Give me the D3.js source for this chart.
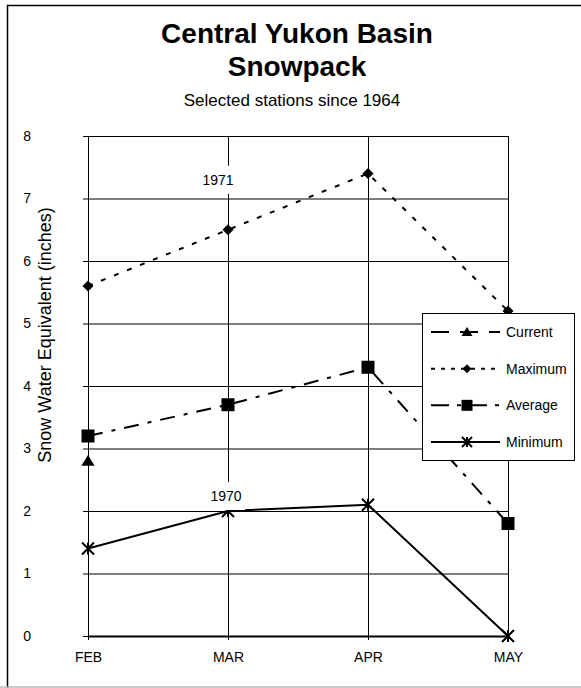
<!DOCTYPE html>
<html>
<head>
<meta charset="utf-8">
<script src="https://cdn.jsdelivr.net/npm/d3@7"></script>
<style>
  body { margin: 0; background: #fff; }
  svg text { font-family: "Liberation Sans", Arial, sans-serif; fill: #000; }
  .axis path, .axis line { stroke: #000; }
  .grid .domain { display: none; }
</style>
</head>
<body>
<div id="chart"></div>
<script>
// chart data
var months = ["FEB", "MAR", "APR", "MAY"];
var yTicks = [0, 1, 2, 3, 4, 5, 6, 7, 8];
var currentVals = [2.8, null, null, null];
var maximumVals = [5.6, 6.5, 7.4, 5.2];
var averageVals = [3.2, 3.7, 4.3, 1.8];
var minimumVals = [1.4, 2.0, 2.1, 0];
var seriesNames = ["Current", "Maximum", "Average", "Minimum"];
var yearNotes = [{month: "MAR", value: 7.3, text: "1971", dx: -10}, {month: "MAR", value: 2.24, text: "1970", dx: -2}];

var W = 581, H = 688;
var margin = {top: 136, right: 73, bottom: 52, left: 88};
var width = W - margin.left - margin.right,
    height = H - margin.top - margin.bottom;

var svg = d3.select("#chart").append("svg")
    .attr("width", W)
    .attr("height", H);

// outer frame
svg.append("path")
    .attr("d", "M7.5,688V5.5H581")
    .attr("fill", "none")
    .attr("stroke", "#000")
    .attr("stroke-width", 1.5);
svg.append("line")
    .attr("x1", 0).attr("x2", W)
    .attr("y1", 687).attr("y2", 687)
    .attr("stroke", "#bbb")
    .attr("stroke-width", 1.5);

// titles
svg.append("text")
    .attr("x", 297).attr("y", 43)
    .attr("text-anchor", "middle")
    .style("font-size", "28px").style("font-weight", "bold")
    .text("Central Yukon Basin");
svg.append("text")
    .attr("x", 297).attr("y", 76)
    .attr("text-anchor", "middle")
    .style("font-size", "28px").style("font-weight", "bold")
    .text("Snowpack");
svg.append("text")
    .attr("x", 292).attr("y", 106)
    .attr("text-anchor", "middle")
    .style("font-size", "17px")
    .text("Selected stations since 1964");

var g = svg.append("g").attr("transform", "translate(" + margin.left + "," + margin.top + ")");

var xScale = d3.scalePoint().domain(months).range([0, width]);
var yScale = d3.scaleLinear().domain([0, 8]).range([height, 0]);

// grid lines
g.append("g")
    .attr("class", "grid")
    .call(d3.axisLeft(yScale).tickValues(yTicks.slice(1)).tickSize(-width).tickFormat(""))
    .selectAll("line").attr("stroke", "#000");
g.append("g")
    .attr("class", "grid")
    .attr("transform", "translate(0," + height + ")")
    .call(d3.axisBottom(xScale).tickSize(height).tickFormat(""))
    .selectAll("line").attr("stroke", "#000").attr("transform", "translate(0," + (-height) + ")");

// axes
var yAxis = d3.axisLeft(yScale).tickValues(yTicks).tickSize(5).tickSizeOuter(0);
g.append("g")
    .attr("class", "axis axis--y")
    .call(yAxis)
    .selectAll("text")
    .style("font-size", "14px")
    .attr("x", -57).attr("text-anchor", "end");

var xAxis = d3.axisBottom(xScale).tickSize(4).tickSizeOuter(0).tickPadding(12);
var xg = g.append("g")
    .attr("class", "axis axis--x")
    .attr("transform", "translate(0," + height + ")")
    .call(xAxis);
xg.select(".domain").attr("stroke-width", 2);
xg.selectAll("text").style("font-size", "14px");

svg.append("text")
    .attr("transform", "translate(51,335) rotate(-90)")
    .attr("text-anchor", "middle")
    .style("font-size", "18px")
    .text("Snow Water Equivalent (inches)");

// series
var styles = {
    Current: {dash: "18,11", legendDash: "18,11", marker: "triangle"},
    Maximum: {dash: "5,9", legendDash: "4,6", marker: "diamond"},
    Average: {dash: "15,9,4,9", legendDash: "18,8,4,8", marker: "square"},
    Minimum: {dash: null, legendDash: null, marker: "star"}
};
var seriesVals = [currentVals, maximumVals, averageVals, minimumVals];

var line = d3.line()
    .defined(function(d) { return d.v != null; })
    .x(function(d) { return xScale(d.m); })
    .y(function(d) { return yScale(d.v); });

function markerPath(type, s) {
    var h = s / 2;
    if (type == "triangle") return "M0," + (-h) + "L" + (h * 1.1) + "," + (h * 0.8) + "L" + (-h * 1.1) + "," + (h * 0.8) + "Z";
    if (type == "diamond") return "M0," + (-h) + "L" + h + ",0L0," + h + "L" + (-h) + ",0Z";
    if (type == "square") return "M" + (-h) + "," + (-h) + "H" + h + "V" + h + "H" + (-h) + "Z";
    return "M" + (-h) + "," + (-h) + "L" + h + "," + h + "M" + h + "," + (-h) + "L" + (-h) + "," + h + "M0," + (-h) + "V" + h;
}
var markerSize = {triangle: 12, diamond: 11, square: 13, star: 12};

function drawMarker(sel, type, s) {
    sel.append("path")
        .attr("d", markerPath(type, s))
        .attr("fill", type == "star" ? "none" : "#000")
        .attr("stroke", "#000")
        .attr("stroke-width", type == "star" ? 2 : 0);
}

seriesNames.forEach(function(name, i) {
    var pts = months.map(function(m, j) { return {m: m, v: seriesVals[i][j]}; });
    var st = styles[name];
    g.append("path")
        .datum(pts)
        .attr("d", line)
        .attr("fill", "none")
        .attr("stroke", "#000")
        .attr("stroke-width", 2)
        .attr("stroke-dasharray", st.dash);
    pts.filter(function(d) { return d.v != null; }).forEach(function(d) {
        var mg = g.append("g").attr("transform", "translate(" + xScale(d.m) + "," + yScale(d.v) + ")");
        drawMarker(mg, st.marker, markerSize[st.marker]);
    });
});

// year notes with white background
yearNotes.forEach(function(n) {
    var cx = xScale(n.month) + n.dx, cy = yScale(n.value);
    g.append("rect")
        .attr("x", cx - 19).attr("y", cy - 14)
        .attr("width", 38).attr("height", 28)
        .attr("fill", "#fff");
    g.append("text")
        .attr("x", cx).attr("y", cy + 5)
        .attr("text-anchor", "middle")
        .style("font-size", "14px")
        .text(n.text);
});

// legend
var legend = svg.append("g").attr("transform", "translate(422,313)");
legend.append("rect")
    .attr("x", 0.5).attr("y", 0.5)
    .attr("width", 152).attr("height", 147)
    .attr("fill", "#fff")
    .attr("stroke", "#000");
var legendY = d3.scalePoint().domain(seriesNames).range([19, 129]);
seriesNames.forEach(function(name) {
    var st = styles[name];
    var ly = legendY(name);
    legend.append("line")
        .attr("x1", 9).attr("x2", 78)
        .attr("y1", ly).attr("y2", ly)
        .attr("stroke", "#000")
        .attr("stroke-width", 2)
        .attr("stroke-dasharray", st.legendDash);
    var mg = legend.append("g").attr("transform", "translate(45," + ly + ")");
    drawMarker(mg, st.marker, markerSize[st.marker] - 2);
    legend.append("text")
        .attr("x", 84).attr("y", ly + 5)
        .style("font-size", "14px")
        .text(name);
});
</script>
</body>
</html>
